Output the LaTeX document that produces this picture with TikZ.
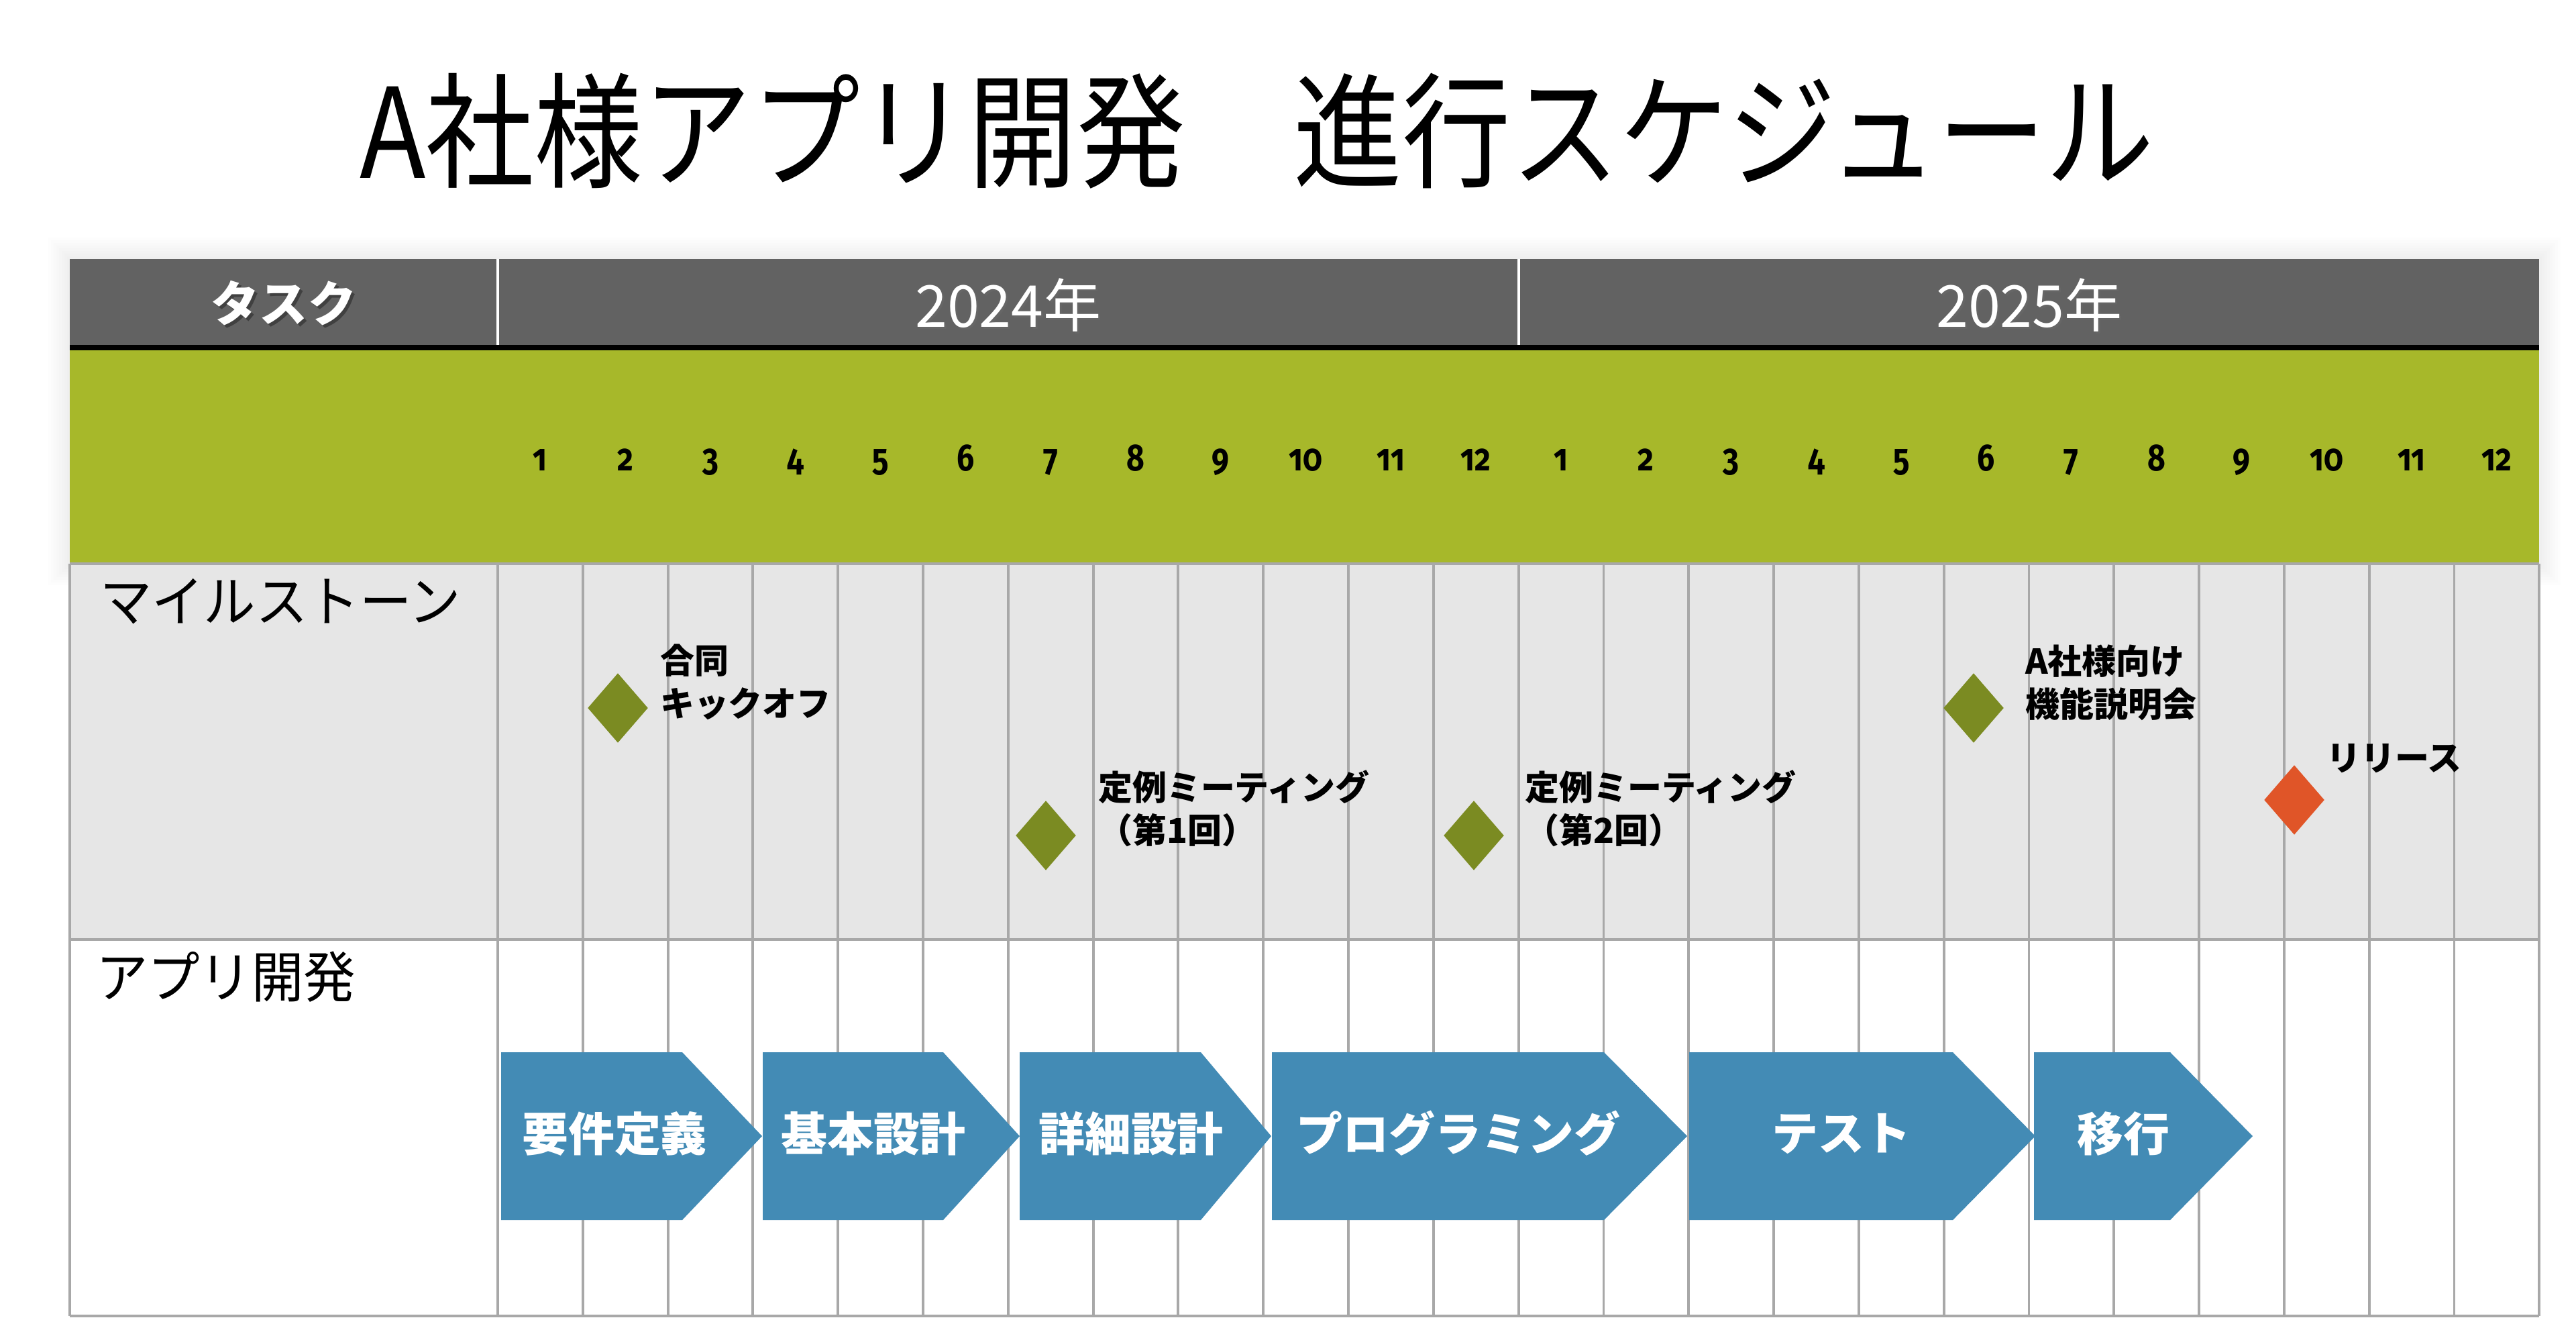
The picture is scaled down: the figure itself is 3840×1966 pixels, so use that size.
\documentclass[tikz,border=0pt]{standalone}
\usepackage{fontspec}
\usepackage{graphicx}
\setmainfont{Noto Sans CJK JP}
\newfontfamily\jpfont{Noto Sans CJK JP}
\newfontfamily\heavyfont{Noto Sans CJK JP Black}
\newfontfamily\numfont{Fira Sans}[Numbers=OldStyle]
\usetikzlibrary{shapes.geometric}
\definecolor{headgray}{HTML}{626262}
\definecolor{bandgreen}{HTML}{A7B82A}
\definecolor{gridgray}{HTML}{A8A8A8}
\definecolor{msfill}{HTML}{E6E6E6}
\definecolor{olive}{HTML}{7B8B22}
\definecolor{relorange}{HTML}{E05528}
\definecolor{chevblue}{HTML}{438BB5}
\newcommand{\chevshape}[3]{\fill[chevblue] (#1,1568) -- (#2,1568) -- (#3,1693) -- (#2,1818) -- (#1,1818) -- cycle;}
\begin{document}
\begin{tikzpicture}[x=0.01cm,y=-0.01cm,
  txt/.style={inner sep=0pt, outer sep=0pt},
  titletext/.style={txt, font=\jpfont\fontsize{46pt}{50pt}\selectfont},
  rowlabel/.style={txt, anchor=west, font=\jpfont\fontsize{21.6pt}{24pt}\selectfont},
  yeartext/.style={txt, text=white, font=\jpfont\fontsize{24.5pt}{28pt}\selectfont},
  monthnum/.style={txt, anchor=base, font=\numfont\bfseries\fontsize{16pt}{18pt}\selectfont},
  mslabel/.style={txt, anchor=west, align=left, font=\heavyfont\fontsize{14.5pt}{18.2pt}\selectfont},
  chevtext/.style={txt, text=white, font=\heavyfont\fontsize{19.6pt}{22pt}\selectfont},
  milestone/.style={diamond, fill=olive, inner sep=0pt, minimum width=0.9cm, minimum height=1.04cm},
  gridline/.style={draw=gridgray, line width=1.1pt},
  sepline/.style={draw=white, line width=1.1pt}]
\useasboundingbox (0,0) rectangle (3840,1966);
\fill[white] (0,0) rectangle (3840,1966);

% title
\node[titletext] (title) at (1874,195) {\scalebox{1}[1.15]{A社様アプリ開発　進行スケジュール}};

% soft shadow of the header block
\foreach \i in {1,...,8}
  \fill[black, opacity=0.008] (104-\i*4,386-\i*4) rectangle (3785+\i*4,840+\i*4);

% header
\fill[headgray] (104,386) rectangle (3785,514);
\fill[black] (104,514) rectangle (3785,522);
\fill[bandgreen] (104,522) rectangle (3785,840);
\draw[sepline] (742,386) -- (742,514);
\draw[sepline] (2264,386) -- (2264,514);

\node[txt, text=black!75, font=\heavyfont\fontsize{20.5pt}{24pt}\selectfont] (tasksh) at (427,456) {タスク};
\node[txt, text=white, font=\heavyfont\fontsize{20.5pt}{24pt}\selectfont] (task) at (423,452) {タスク};
\node[yeartext, text=black!60] (y24sh) at (1506,458) {2024年};
\node[yeartext] (y24) at (1503,455) {2024年};
\node[yeartext, text=black!60] (y25sh) at (3028,458) {2025年};
\node[yeartext] (y25) at (3025,455) {2025年};

% month numbers
\foreach \m [count=\i from 0] in {1,...,12}
  \node[monthnum] (ma\m) at (742+126.8*\i+63.4,701) {\scalebox{0.82}[1]{\m}};
\foreach \m [count=\i from 12] in {1,...,12}
  \node[monthnum] (mb\m) at (742+126.8*\i+63.4,701) {\scalebox{0.82}[1]{\m}};

% rows
\fill[msfill] (104,840) rectangle (3785,1400);
\foreach \k in {0,...,24}
  \draw[gridline] (742+126.8*\k,840) -- (742+126.8*\k,1961);
\draw[gridline] (104,840) -- (104,1961);
\draw[gridline] (104,840) -- (3785,840);
\draw[gridline] (104,1400) -- (3785,1400);
\draw[gridline] (104,1961) -- (3785,1961);

\node[rowlabel] (rowms) at (149,896) {\scalebox{1.02}[1.08]{マイルストーン}};
\node[rowlabel] (rowapp) at (143,1456) {\scalebox{1.02}[1.08]{アプリ開発}};

% milestones
\node[milestone] (m1) at (921,1055) {};
\node[milestone] (m2) at (1559,1245) {};
\node[milestone] (m3) at (2197,1245) {};
\node[milestone] (m4) at (2942,1055) {};
\node[milestone, fill=relorange] (m5) at (3420,1192) {};

\node[mslabel] (l1) at (984,1016) {合同\\キックオフ};
\node[mslabel] (l2) at (1637,1205) {定例ミーティング\\（第1回）};
\node[mslabel] (l3) at (2273,1205) {定例ミーティング\\（第2回）};
\node[mslabel] (l4) at (3019,1017) {A社様向け\\機能説明会};
\node[mslabel] (l5) at (3468,1130) {リリース};

% process chevrons
\chevshape{747}{1017}{1136}
\chevshape{1137}{1406}{1520}
\chevshape{1520}{1790}{1895}
\chevshape{1896}{2391}{2515}
\chevshape{2518}{2911}{3034}
\chevshape{3032}{3235}{3358}
\node[chevtext] (c1) at (916,1689) {要件定義};
\node[chevtext] (c2) at (1302,1689) {基本設計};
\node[chevtext] (c3) at (1686,1689) {詳細設計};
\node[chevtext] (c4) at (2174,1689) {プログラミング};
\node[chevtext] (c5) at (2745,1689) {テスト};
\node[chevtext] (c6) at (3165,1689) {移行};
\end{tikzpicture}
\end{document}
